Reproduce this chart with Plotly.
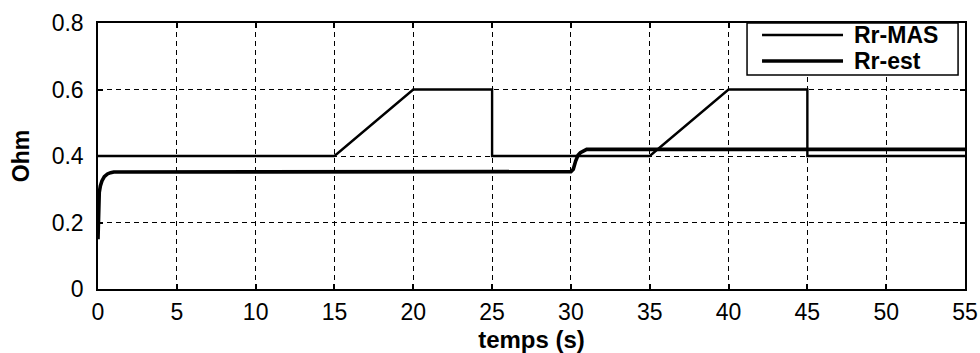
import plotly.graph_objects as go

# Rr-MAS (actual rotor resistance)
t_mas = [0, 15, 20, 25, 25, 35, 40, 45, 45, 55]
r_mas = [0.40, 0.40, 0.60, 0.60, 0.40, 0.40, 0.60, 0.60, 0.40, 0.40]

# Rr-est (estimated rotor resistance)
t_est = [0, 0.03, 0.08, 0.15, 0.25, 0.4, 0.6, 0.8, 1.0, 30.0, 30.15, 30.3, 30.45, 30.6, 30.8, 31.0, 55]
r_est = [0.15, 0.24, 0.29, 0.31, 0.325, 0.338, 0.346, 0.35, 0.352, 0.353, 0.36, 0.385, 0.402, 0.41, 0.416, 0.42, 0.42]

series_names = ["Rr-MAS", "Rr-est"]

x_ticks = list(range(0, 56, 5))
y_ticks = [0, 0.2, 0.4, 0.6, 0.8]
y_tick_labels = ["0", "0.2", "0.4", "0.6", "0.8"]

FONT = "Liberation Sans"
W_MAS, W_EST = 2.4, 3.6

fig = go.Figure()
fig.add_trace(go.Scatter(x=t_mas, y=r_mas, mode="lines", name=series_names[0],
                         line=dict(color="black", width=W_MAS)))
fig.add_trace(go.Scatter(x=t_est, y=r_est, mode="lines", name=series_names[1],
                         line=dict(color="black", width=W_EST)))

axis_common = dict(
    showline=True, linecolor="black", linewidth=1.5, mirror="ticks",
    ticks="inside", ticklen=5, tickcolor="black", tickwidth=1.5,
    showgrid=True, gridcolor="black", gridwidth=1.3, griddash="5px,4px",
    zeroline=False, automargin=False,
    tickfont=dict(family=FONT, size=23, color="black"),
)

fig.update_xaxes(range=[0, 55], tickvals=x_ticks, ticklabelstandoff=2,
                 title=dict(text="temps (s)", standoff=8,
                            font=dict(family=FONT, size=24, color="black", weight="bold")),
                 **axis_common)
fig.update_yaxes(range=[0, 0.8], tickvals=y_ticks, ticktext=y_tick_labels, ticklabelstandoff=8,
                 title=dict(text="Ohm", standoff=16,
                            font=dict(family=FONT, size=23, color="black", weight="bold")),
                 **axis_common)

# Legend box (MATLAB style) in plot-domain coordinates
box = dict(x0=0.7486, x1=0.992, y0=0.8045, y1=1.0)
rows_y = [0.9549, 0.8571]
line_x = (0.7659, 0.8593)
text_x = 0.8697
shapes = [dict(type="rect", xref="x domain", yref="y domain", **box,
               line=dict(color="black", width=1.5), fillcolor="white", layer="above")]
annotations = []
for name, yy, w in zip(series_names, rows_y, [W_MAS, W_EST]):
    shapes.append(dict(type="line", xref="x domain", yref="y domain",
                       x0=line_x[0], x1=line_x[1], y0=yy, y1=yy,
                       line=dict(color="black", width=w), layer="above"))
    annotations.append(dict(xref="x domain", yref="y domain", x=text_x, y=yy,
                            xanchor="left", yanchor="middle", showarrow=False, text=name,
                            font=dict(family=FONT, size=23, color="black", weight="bold")))

fig.update_layout(
    width=980, height=353,
    margin=dict(l=98, r=15, t=23, b=64, autoexpand=False),
    paper_bgcolor="white", plot_bgcolor="white",
    showlegend=False,
    shapes=shapes, annotations=annotations,
)

fig.write_html(
    "out.html",
    config={"displayModeBar": False},
    post_script="document.body.style.margin='0';document.body.style.overflow='hidden';",
)
